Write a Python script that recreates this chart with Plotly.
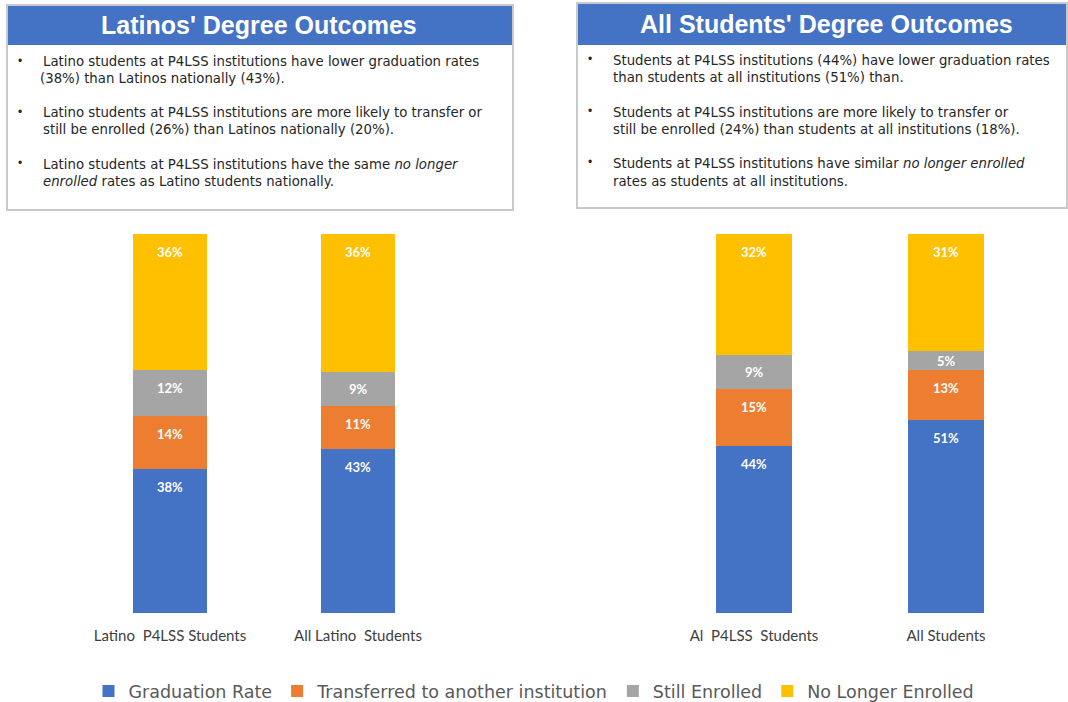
import plotly.graph_objects as go

# ---------------- data ----------------
groups_latino = ["Latino  P4LSS Students", "All Latino  Students"]
groups_all = ["Al  P4LSS  Students", "All Students"]

series_names = ["Graduation Rate", "Transferred to another institution",
                "Still Enrolled", "No Longer Enrolled"]
series_colors = ["#4472C4", "#ED7D31", "#A5A5A5", "#FFC000"]

# values (labels show rounded percentages)
latino_values = {
    "Graduation Rate": [38, 43.4],
    "Transferred to another institution": [14, 11.1],
    "Still Enrolled": [12, 9.1],
    "No Longer Enrolled": [36, 36.4],
}
all_values = {
    "Graduation Rate": [44, 51],
    "Transferred to another institution": [15, 13],
    "Still Enrolled": [9, 5],
    "No Longer Enrolled": [32, 31],
}

title_left = "Latinos' Degree Outcomes"
title_right = "All Students' Degree Outcomes"

left_lines = [
    "Latino students at P4LSS institutions have lower graduation rates",
    "(38%) than Latinos nationally (43%).",
    "Latino students at P4LSS institutions are more likely to transfer or",
    "still be enrolled (26%) than Latinos nationally (20%).",
    "Latino students at P4LSS institutions have the same <i>no longer</i>",
    "<i>enrolled</i> rates as Latino students nationally.",
]
right_lines = [
    "Students at P4LSS institutions (44%) have lower graduation rates",
    "than students at all institutions (51%) than.",
    "Students at P4LSS institutions are more likely to transfer or",
    "still be enrolled (24%) than students at all institutions (18%).",
    "Students at P4LSS institutions have similar <i>no longer enrolled</i>",
    "rates as students at all institutions.",
]

# ---------------- layout helpers ----------------
W, H = 1068, 702
BAR_TOP, BAR_BOTTOM = 234, 613


def px(x):
    return x / W


def py(y):
    return 1 - y / H


fig = go.Figure()

for name, color in zip(series_names, series_colors):
    fig.add_trace(go.Bar(
        x=groups_latino, y=latino_values[name], name=name,
        marker=dict(color=color, line=dict(width=0)),
        width=0.39, xaxis="x", yaxis="y",
        legendgroup=name, showlegend=True, hoverinfo="x+y+name",
    ))
    fig.add_trace(go.Bar(
        x=groups_all, y=all_values[name], name=name,
        marker=dict(color=color, line=dict(width=0)),
        width=0.40, xaxis="x2", yaxis="y2",
        legendgroup=name, showlegend=False, hoverinfo="x+y+name",
    ))

annotations = []

# segment labels placed near the top of each stacked segment (data coordinates)
unit_px = (BAR_BOTTOM - BAR_TOP) / 100.0
for groups, values, xr, yr in [(groups_latino, latino_values, "x", "y"),
                               (groups_all, all_values, "x2", "y2")]:
    for i, g in enumerate(groups):
        base = 0.0
        for name in series_names:
            v = values[name][i]
            top = base + v
            off = min(18.0, v * unit_px / 2.0)
            annotations.append(dict(
                text="<b>%d%%</b>" % round(v), x=g, y=top, xref=xr, yref=yr,
                yshift=-off, showarrow=False, xanchor="center", yanchor="middle",
                font=dict(family="Lato", size=13, color="white")))
            base = top

ydom = [py(BAR_BOTTOM), py(BAR_TOP)]
xaxis_common = dict(showgrid=False, zeroline=False, showline=False,
                    ticks="outside", ticklen=9, tickcolor="rgba(0,0,0,0)",
                    tickfont=dict(family="Lato", size=15, color="#404040"),
                    fixedrange=True)
yaxis_common = dict(range=[0, 100], visible=False, showgrid=False,
                    zeroline=False, fixedrange=True)

shapes = []
# boxes
for (x0, y0, x1, y1, hy) in [(7, 5, 513, 210, 45), (577, 3, 1067, 208, 45)]:
    shapes.append(dict(type="rect", xref="paper", yref="paper",
                       x0=px(x0), x1=px(x1), y0=py(y1), y1=py(y0),
                       line=dict(color="#C9C9C9", width=2),
                       fillcolor="white", layer="below"))
    shapes.append(dict(type="rect", xref="paper", yref="paper",
                       x0=px(x0 + 1), x1=px(x1 - 1), y0=py(hy), y1=py(y0 + 1),
                       line=dict(width=0), fillcolor="#4472C4", layer="below"))

annotations.append(dict(text="<b>" + title_left + "</b>", x=px(259), y=py(25),
                        xref="paper", yref="paper", showarrow=False,
                        xanchor="center", yanchor="middle",
                        font=dict(family="Arial", size=25, color="white")))
annotations.append(dict(text="<b>" + title_right + "</b>", x=px(826), y=py(24),
                        xref="paper", yref="paper", showarrow=False,
                        xanchor="center", yanchor="middle",
                        font=dict(family="Arial", size=25, color="white")))

body_font = dict(family="DejaVu Sans", size=13.3, color="#262626")
left_pos = [(41, 62), (38, 79), (41, 113), (41, 130), (41, 164), (41, 181)]
right_pos = [(611, 60), (611, 77), (611, 112), (611, 129), (611, 163), (611, 181)]
for txt, (x, y) in zip(left_lines, left_pos):
    annotations.append(dict(text=txt, x=px(x), y=py(y), xref="paper", yref="paper",
                            showarrow=False, xanchor="left", yanchor="middle",
                            font=body_font))
for txt, (x, y) in zip(right_lines, right_pos):
    annotations.append(dict(text=txt, x=px(x), y=py(y), xref="paper", yref="paper",
                            showarrow=False, xanchor="left", yanchor="middle",
                            font=body_font))
for (x, y) in [(20, 61), (20, 112), (20, 163), (590, 59), (590, 111), (590, 162)]:
    annotations.append(dict(text="•", x=px(x), y=py(y), xref="paper", yref="paper",
                            showarrow=False, xanchor="center", yanchor="middle",
                            font=dict(family="Arial", size=12, color="#262626")))

fig.update_layout(
    width=W, height=H,
    margin=dict(l=0, r=0, t=0, b=0, autoexpand=False),
    paper_bgcolor="white", plot_bgcolor="white",
    barmode="stack",
    xaxis=dict(domain=[px(76), px(452)], anchor="y", **xaxis_common),
    yaxis=dict(domain=ydom, anchor="x", **yaxis_common),
    xaxis2=dict(domain=[px(658), px(1042)], anchor="y2", **xaxis_common),
    yaxis2=dict(domain=ydom, anchor="x2", **yaxis_common),
    shapes=shapes,
    annotations=annotations,
    legend=dict(orientation="h", x=0.5, xanchor="center", y=py(691),
                yanchor="middle", traceorder="normal",
                font=dict(family="DejaVu Sans", size=17.5, color="#595959"),
                itemwidth=30),
    font=dict(family="Arial"),
)

fig.write_html("out.html", config={"displayModeBar": False},
               post_script="document.body.style.margin='0';")
